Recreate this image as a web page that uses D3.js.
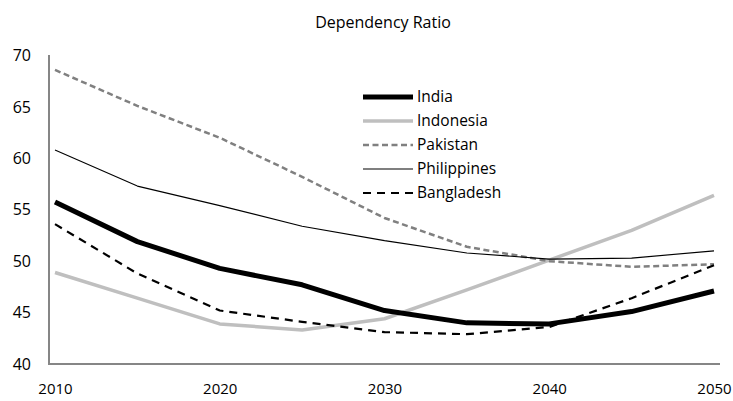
<!DOCTYPE html>
<html lang="en">
<head>
<meta charset="utf-8">
<style>
  body { margin: 0; background: #fff; }
  text { font-family: "Open Sans", "Noto Sans", sans-serif; fill: #000; }
</style>
</head>
<body>
<svg width="733" height="401"></svg>
<script src="https://cdn.jsdelivr.net/npm/d3@7"></script>
<script>
// values, every 5 years
var years = [2010, 2015, 2020, 2025, 2030, 2035, 2040, 2045, 2050];
var india      = [55.75, 51.9, 49.3, 47.7, 45.2, 44.0, 43.9, 45.1, 47.1];
var indonesia  = [48.9, 46.4, 43.9, 43.3, 44.4, 47.2, 50.1, 53.0, 56.4];
var pakistan   = [68.6, 65.1, 62.0, 58.2, 54.2, 51.4, 50.0, 49.45, 49.7];
var philippines= [60.8, 57.3, 55.4, 53.4, 52.0, 50.8, 50.2, 50.3, 51.0];
var bangladesh = [53.6, 48.8, 45.2, 44.1, 43.1, 42.9, 43.6, 46.4, 49.6];
var yTicks = [40, 45, 50, 55, 60, 65, 70];
var xTicks = [2010, 2020, 2030, 2040, 2050];

var series = [
  {name: "India", values: india, color: "#000", width: 5, dash: null},
  {name: "Indonesia", values: indonesia, color: "#bfbfbf", width: 3.5, dash: null},
  {name: "Pakistan", values: pakistan, color: "#808080", width: 2.5, dash: "6,3.5"},
  {name: "Philippines", values: philippines, color: "#000", width: 1.1, dash: null},
  {name: "Bangladesh", values: bangladesh, color: "#000", width: 2.2, dash: "8,6"}
];

var svg = d3.select("svg");
var x = d3.scaleLinear().domain([2010, 2050]).range([55, 714]);
var y = d3.scaleLinear().domain([40, 70]).range([364, 55.5]);

svg.append("text")
    .attr("x", 383).attr("y", 28)
    .attr("text-anchor", "middle")
    .style("font-size", "16px")
    .text("Dependency Ratio");

// axes (no tick marks, grey lines)
var yAxis = svg.append("g")
    .attr("transform", "translate(49,0)")
    .call(d3.axisLeft(y).tickValues(yTicks).tickSize(0).tickPadding(18));
var xAxis = svg.append("g")
    .attr("transform", "translate(0,364)")
    .call(d3.axisBottom(x).tickValues(xTicks).tickFormat(d3.format("d")).tickSize(0).tickPadding(19));
yAxis.selectAll("text").style("font-size", "16px");
xAxis.selectAll("text").style("font-size", "15px");
[yAxis, xAxis].forEach(function (g) {
    g.select(".domain").remove();
    g.selectAll("text").style("font-family", "'Open Sans', sans-serif");
});
svg.append("line").attr("x1", 49).attr("x2", 49).attr("y1", 55).attr("y2", 364)
    .attr("stroke", "#868686").attr("stroke-width", 2);
svg.append("line").attr("x1", 48).attr("x2", 720).attr("y1", 364).attr("y2", 364)
    .attr("stroke", "#868686").attr("stroke-width", 2);

var line = d3.line()
    .x(function (d, i) { return x(years[i]); })
    .y(function (d) { return y(d); });

// draw in an order so the thick india line sits on top of bangladesh
var order = [1, 2, 3, 4, 0];
order.forEach(function (k) {
    var s = series[k];
    svg.append("path")
        .datum(s.values)
        .attr("d", line)
        .attr("fill", "none")
        .attr("stroke", s.color)
        .attr("stroke-width", s.width)
        .attr("stroke-dasharray", s.dash)
        .attr("stroke-linejoin", "round");
});

var legend = svg.append("g").selectAll("g")
    .data(series).enter().append("g")
    .attr("transform", function (d, i) { return "translate(363," + (97 + i * 24) + ")"; });
legend.append("line")
    .attr("x1", 0).attr("x2", 50)
    .attr("stroke", function (d) { return d.color; })
    .attr("stroke-width", function (d) { return d.width; })
    .attr("stroke-dasharray", function (d) { return d.dash; });
legend.append("text")
    .attr("x", 54).attr("dy", "0.35em")
    .style("font-size", "15.5px")
    .text(function (d) { return d.name; });
</script>
</body>
</html>
